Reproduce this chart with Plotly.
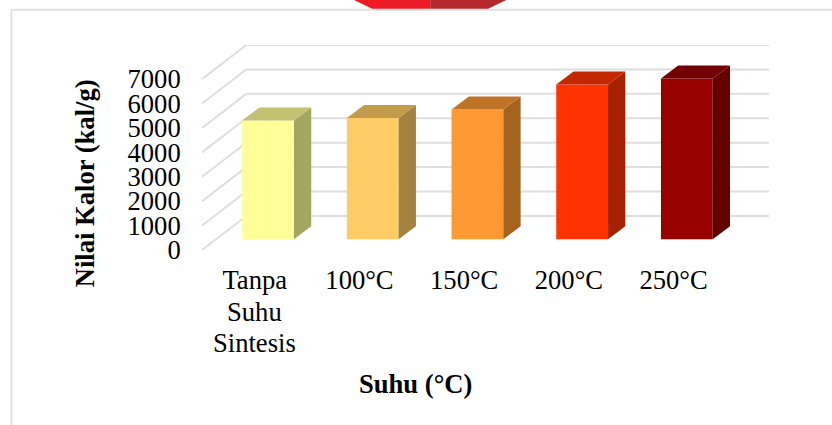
import plotly.graph_objects as go

categories = ["Tanpa<br>Suhu<br>Sintesis", "100°C", "150°C", "200°C", "250°C"]
values = [4865, 4970, 5312, 6336, 6582]
y_ticks = [0, 1000, 2000, 3000, 4000, 5000, 6000, 7000]
front_colors = ["#FFFF99", "#FFCC66", "#FF9933", "#FF3300", "#990000"]
side_colors = ["#A6A663", "#A68240", "#A56320", "#A62100", "#630000"]
top_colors = ["#C2C272", "#C29B4D", "#BF7326", "#C22700", "#730000"]

# page geometry of the plot area
L, R, T, B = 201.7, 769.0, 45.3, 250.0
W, H = 832, 425
PX_PER_CAT = 104.75
PX_PER_UNIT = 24.38 / 1000
X0 = 254.5
xr = [(L - X0) / PX_PER_CAT, (R - X0) / PX_PER_CAT]
yr = [0, (B - T) / PX_PER_UNIT]

# 3-D offsets, in axis units
wall_dx, wall_dy = 44.3 / PX_PER_CAT, 34.0 / PX_PER_UNIT
bar_shift_x, bar_shift_y = 13.3 / PX_PER_CAT, 10.7 / PX_PER_UNIT
bar_w = 51.8 / PX_PER_CAT
bar_dx, bar_dy = 17.3 / PX_PER_CAT, 13.0 / PX_PER_UNIT

FONT = "Liberation Serif"
FS = 26.6
LINE_PX = 31.5  # spacing of the wrapped category label lines
fig = go.Figure()

idx = list(range(len(categories)))
fig.add_trace(go.Bar(
    x=[i + bar_shift_x for i in idx], y=values, base=bar_shift_y, width=bar_w,
    marker=dict(color=front_colors, line=dict(width=0)), hoverinfo="skip", showlegend=False,
))
for i, v in zip(idx, values):
    xl = i + bar_shift_x - bar_w / 2
    xr_ = xl + bar_w
    y0 = bar_shift_y
    y1 = y0 + v
    fig.add_trace(go.Scatter(
        x=[xr_, xr_ + bar_dx, xr_ + bar_dx, xr_, xr_], y=[y0, y0 + bar_dy, y1 + bar_dy, y1, y0],
        mode="lines", fill="toself", fillcolor=side_colors[i], line=dict(width=0),
        hoverinfo="skip", showlegend=False,
    ))
    fig.add_trace(go.Scatter(
        x=[xl, xr_, xr_ + bar_dx, xl + bar_dx, xl], y=[y1, y1, y1 + bar_dy, y1 + bar_dy, y1],
        mode="lines", fill="toself", fillcolor=top_colors[i], line=dict(width=0),
        hoverinfo="skip", showlegend=False,
    ))

shapes = []
GRID = dict(color="#DEDEDE", width=2)
for t in y_ticks:
    shapes.append(dict(type="line", xref="x", yref="y", layer="below", line=GRID,
                       x0=xr[0], y0=t, x1=xr[0] + wall_dx, y1=t + wall_dy))
    shapes.append(dict(type="line", xref="x", yref="y", layer="below", line=GRID,
                       x0=xr[0] + wall_dx, y0=t + wall_dy, x1=xr[1], y1=t + wall_dy))


def px(x):
    return (x - L) / (R - L)


def py(y):
    return (B - y) / (B - T)


def poly(points, color):
    d = "M " + " L ".join(f"{px(a):.5f},{py(b):.5f}" for a, b in points) + " Z"
    return dict(type="path", xref="paper", yref="paper", path=d, fillcolor=color,
                line=dict(width=0), layer="above")


# page decoration: frame and the cropped logo at the top edge
shapes += [
    dict(type="line", xref="paper", yref="paper", x0=px(11), y0=py(10), x1=px(832), y1=py(10),
         line=dict(color="#E0E0E0", width=2)),
    dict(type="line", xref="paper", yref="paper", x0=px(11), y0=py(10), x1=px(11), y1=py(425),
         line=dict(color="#E0E0E0", width=2)),
    poly([(353, 0), (430, 0), (430, 9), (372, 9)], "#ED1C24"),
    poly([(430, 0), (507, 0), (488, 9), (430, 9)], "#B5272D"),
]

annotations = [
    dict(text="<b>Nilai Kalor (kal/g)</b>", textangle=-90, showarrow=False, xref="paper", yref="paper",
         x=px(85), y=py(183), xanchor="center", yanchor="middle",
         font=dict(family=FONT, size=FS, color="#000000")),
    dict(text="<b>Suhu (°C)</b>", showarrow=False, xref="paper", yref="paper",
         x=px(415.5), y=py(384), xanchor="center", yanchor="middle",
         font=dict(family=FONT, size=FS, color="#000000")),
]

# wrapped category labels: first line is the tick label, later lines sit below at the reference's tighter spacing
tick_text = []
for i, c in enumerate(categories):
    lines = c.split("<br>")
    tick_text.append(lines[0])
    for n, extra in enumerate(lines[1:], start=1):
        annotations.append(dict(text=extra, showarrow=False, xref="x", yref="paper",
                                x=i, y=py(280 + n * LINE_PX), xanchor="center", yanchor="middle",
                                font=dict(family=FONT, size=FS, color="#000000")))

fig.update_layout(
    width=W, height=H, autosize=False,
    margin=dict(l=L, r=W - R, t=T, b=H - B, pad=0),
    paper_bgcolor="#FFFFFF", plot_bgcolor="rgba(0,0,0,0)",
    shapes=shapes, annotations=annotations, showlegend=False, barmode="overlay",
    xaxis=dict(range=xr, tickmode="array", tickvals=idx, ticktext=tick_text, showgrid=False,
               zeroline=False, showline=False, ticks="outside", ticklen=6, tickcolor="rgba(0,0,0,0)",
               tickangle=0, tickfont=dict(family=FONT, size=FS, color="#000000")),
    yaxis=dict(range=yr, tickmode="array", tickvals=y_ticks, showgrid=False, zeroline=False,
               showline=False, ticks="outside", ticklen=15, tickcolor="rgba(0,0,0,0)",
               tickfont=dict(family=FONT, size=FS, color="#000000")),
)

fig.write_html("out.html", config=dict(displayModeBar=False),
               post_script="document.body.style.margin='0';document.documentElement.style.overflow='hidden';")
